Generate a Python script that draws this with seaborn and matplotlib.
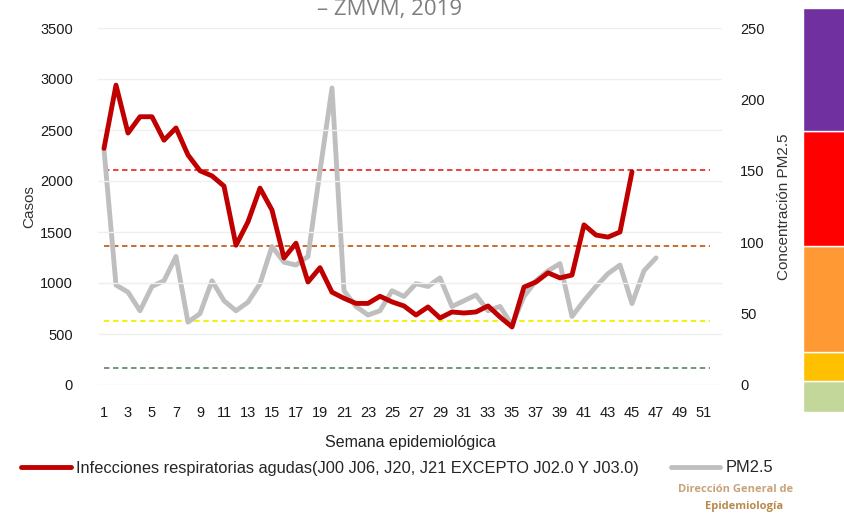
import numpy as np
import pandas as pd
import matplotlib
matplotlib.use("Agg")
import matplotlib.pyplot as plt
import seaborn as sns

# ---- data ----
weeks = list(range(1, 53))
casos = [2320, 2940, 2470, 2630, 2630, 2400, 2520, 2255, 2100, 2050,
         1950, 1370, 1600, 1930, 1715, 1245, 1390, 1010, 1150, 910,
         850, 800, 800, 870, 815, 775, 686, 765, 657, 716,
         706, 716, 775, 667, 569, 960, 1010, 1100, 1050, 1078,
         1570, 1470, 1450, 1500, 2090]
pm25 = [165, 70, 65, 52, 69, 73, 90, 44, 50, 73,
        59, 52, 58, 71, 97, 86, 84, 90, 150, 208,
        66, 55, 49, 52, 66, 62, 71, 69, 75, 55,
        59, 63, 52, 55, 42, 62, 73, 80, 85, 48,
        59, 69, 78, 84, 57, 80, 89]
# limites IMECA PM2.5
limites = [150.4, 97.4, 45, 12]
colores_lim = ["#e8332e", "#c8601a", "#f0f000", "#6a8f6a"]
# barra de colores de la derecha (alto de cada franja, de abajo hacia arriba)
franjas = [31, 29, 106, 115, 123]
colores_franja = ["#c4d79b", "#ffc000", "#ff9933", "#ff0000", "#7030a0"]

leg_ira = "Infecciones respiratorias agudas(J00 J06, J20, J21 EXCEPTO J02.0 Y J03.0)"

df1 = pd.DataFrame({"semana": weeks[:len(casos)], "casos": casos})
df2 = pd.DataFrame({"semana": weeks[:len(pm25)], "pm": pm25})

sns.set_style("white")
plt.rcParams["font.family"] = ["Liberation Sans", "DejaVu Sans"]

fig = plt.figure(figsize=(8.45, 5.14), dpi=100)
ax = fig.add_axes([98 / 845, 1 - 385 / 514, 624 / 845, 357 / 514])
ax2 = ax.twinx()
# casos encima del PM2.5
ax.set_zorder(ax2.get_zorder() + 1)
ax.patch.set_visible(False)
ax2.patch.set_facecolor("white")

ax.set_ylim(0, 3500)
ax2.set_ylim(0, 250)
ax.set_xlim(0.5, 52.5)
ax.set_yticks(range(0, 3501, 500))
ax2.set_yticks(range(0, 251, 50))
ax.yaxis.grid(True, color="#efefef", lw=1)

for v, c in zip(limites, colores_lim):
    ax2.axhline(v, xmin=0.01, xmax=0.98, color=c, ls=(0, (3, 2)), lw=1.3)

sns.lineplot(data=df2, x="semana", y="pm", ax=ax2, color="#bfbfbf", lw=3.5)
sns.lineplot(data=df1, x="semana", y="casos", ax=ax, color="#c00000", lw=3.5)

ax.set_xticks(range(1, 52, 2))
for a in (ax, ax2):
    for s in a.spines.values():
        s.set_visible(False)
    a.tick_params(length=0, labelsize=10.5, colors="#1a1a1a")
ax.tick_params(axis="y", pad=18)
ax2.tick_params(axis="y", pad=13)
ax.tick_params(axis="x", pad=15)

ax.set_ylabel("Casos", fontsize=11, color="#333333", labelpad=3)
ax2.set_ylabel("Concentración PM2.5", fontsize=11, color="#333333", labelpad=9)
ax.set_xlabel("Semana epidemiológica", fontsize=11.5, color="#222222", labelpad=11)

h1, = ax.plot([], [], color="#c00000", lw=3.5)
h2, = ax.plot([], [], color="#bfbfbf", lw=3.5)
fig.legend([h1, h2], [leg_ira, "PM2.5"], loc="center", bbox_to_anchor=(0.47, 1 - 468 / 514),
           ncol=2, frameon=False, fontsize=11.8, handlelength=3.0, columnspacing=2.0,
           handletextpad=0.3)

# barra de colores
axb = fig.add_axes([803 / 845, 1 - 412 / 514, 42 / 845, 404 / 514])
bottom = 0
for h, c in zip(franjas, colores_franja):
    axb.bar(0, h, bottom=bottom, color=c, width=1.0)
    bottom += h
axb.set_xlim(-0.5, 0.5)
axb.set_ylim(0, sum(franjas))
axb.axis("off")

fig.text(390 / 845, 1 - 10 / 514, "– ZMVM, 2019", ha="center", va="center",
         fontsize=16, color="#7f7f7f", family=["Open Sans", "DejaVu Sans"])
fig.text(736 / 845, 1 - 490 / 514, "Dirección General de", ha="center", va="center",
         fontsize=8, color="#c8a27a", fontweight="bold", family=["Open Sans", "DejaVu Sans"])
fig.text(744 / 845, 1 - 506 / 514, "Epidemiología", ha="center", va="center",
         fontsize=8, color="#b98a4a", fontweight="bold", family=["Open Sans", "DejaVu Sans"])

fig.savefig("out.png", dpi=100, facecolor="white")
